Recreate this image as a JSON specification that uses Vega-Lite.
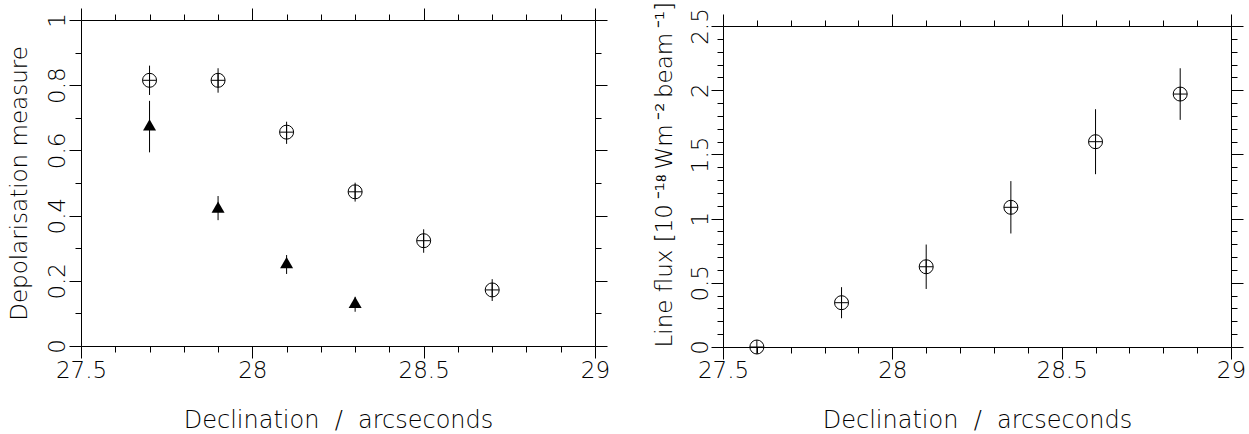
{
  "$schema": "https://vega.github.io/schema/vega-lite/v6.json",
  "padding": {"left": 8, "top": 1, "right": 0, "bottom": 0},
  "datasets": {
    "depol": [
      {"dec": 27.7, "val": 0.815, "lo": 0.77, "hi": 0.86, "kind": "circle"},
      {"dec": 27.9, "val": 0.815, "lo": 0.777, "hi": 0.852, "kind": "circle"},
      {"dec": 28.1, "val": 0.656, "lo": 0.62, "hi": 0.688, "kind": "circle"},
      {"dec": 28.3, "val": 0.473, "lo": 0.443, "hi": 0.501, "kind": "circle"},
      {"dec": 28.5, "val": 0.323, "lo": 0.286, "hi": 0.358, "kind": "circle"},
      {"dec": 28.7, "val": 0.172, "lo": 0.138, "hi": 0.205, "kind": "circle"},
      {"dec": 27.7, "val": 0.678, "lo": 0.594, "hi": 0.752, "kind": "triangle"},
      {"dec": 27.9, "val": 0.426, "lo": 0.386, "hi": 0.46, "kind": "triangle"},
      {"dec": 28.1, "val": 0.256, "lo": 0.221, "hi": 0.279, "kind": "triangle"},
      {"dec": 28.3, "val": 0.134, "lo": 0.105, "hi": 0.151, "kind": "triangle"}
    ],
    "flux": [
      {"dec": 27.6, "val": 0.0, "lo": 0.0, "hi": 0.0},
      {"dec": 27.85, "val": 0.345, "lo": 0.224, "hi": 0.466},
      {"dec": 28.1, "val": 0.625, "lo": 0.452, "hi": 0.798},
      {"dec": 28.35, "val": 1.088, "lo": 0.884, "hi": 1.292},
      {"dec": 28.6, "val": 1.599, "lo": 1.346, "hi": 1.852},
      {"dec": 28.85, "val": 1.97, "lo": 1.769, "hi": 2.171}
    ]
  },
  "spacing": 128,
  "bounds": "flush",
  "hconcat": [
    {
      "width": 514,
      "height": 326,
      "data": {"name": "depol"},
      "layer": [
        {
          "mark": {"type": "rule", "color": "#000", "strokeWidth": 1},
          "encoding": {
            "x": {"field": "dec", "type": "quantitative",
              "scale": {"domain": [27.5, 29], "nice": false, "zero": false},
              "axis": {"orient": "bottom", "values": [27.5, 28, 28.5, 29], "format": "~g", "tickSize": 12, "labelPadding": 19, "labelAngle": 0, "labelAlign": "center", "labelBaseline": "alphabetic", "title": "Declination\u00a0\u00a0/\u00a0\u00a0arcseconds", "titleFontSize": 24, "titleY": 81, "titleBaseline": "alphabetic", "titleAlign": "center"}},
            "y": {"field": "lo", "type": "quantitative",
              "scale": {"domain": [0, 1], "nice": false, "zero": false},
              "axis": {"orient": "left", "values": [0, 0.2, 0.4, 0.6, 0.8, 1], "format": "~g", "tickSize": 12, "labelPadding": 5, "labelAngle": -90, "labelAlign": "center", "labelBaseline": "alphabetic", "title": "Depolarisation measure", "titleX": -55, "titleY": 163, "titleAngle": -90, "titleAlign": "center", "titleBaseline": "alphabetic"}},
            "y2": {"field": "hi"}
          }
        },
        {
          "transform": [{"filter": "datum.kind === 'circle'"}],
          "mark": {"type": "point", "shape": "circle", "filled": false, "color": "#000", "strokeWidth": 1, "size": 196, "opacity": 1},
          "encoding": {
            "x": {"field": "dec", "type": "quantitative",
              "scale": {"domain": [27.5, 29], "nice": false, "zero": false},
              "axis": {"orient": "top", "values": [27.5, 28, 28.5, 29], "tickSize": 12, "labels": false, "title": null}},
            "y": {"field": "val", "type": "quantitative",
              "scale": {"domain": [0, 1], "nice": false, "zero": false},
              "axis": {"orient": "right", "values": [0, 0.2, 0.4, 0.6, 0.8, 1], "tickSize": 12, "labels": false, "title": null}}
          }
        },
        {
          "transform": [{"filter": "datum.kind === 'circle'"}],
          "mark": {"type": "point", "shape": "M-1,0H1M0,-1V1", "filled": false, "color": "#000", "strokeWidth": 1, "size": 196, "opacity": 1},
          "encoding": {
            "x": {"field": "dec", "type": "quantitative",
              "scale": {"domain": [27.5, 29], "nice": false, "zero": false},
              "axis": {"orient": "bottom", "values": [27.6, 27.7, 27.8, 27.9, 28.1, 28.2, 28.3, 28.4, 28.6, 28.7, 28.8, 28.9], "tickSize": 6, "labels": false, "domain": false, "title": null}},
            "y": {"field": "val", "type": "quantitative",
              "scale": {"domain": [0, 1], "nice": false, "zero": false},
              "axis": {"orient": "left", "values": [0.1, 0.3, 0.5, 0.7, 0.9], "tickSize": 6, "labels": false, "domain": false, "title": null}}
          }
        },
        {
          "transform": [{"filter": "datum.kind === 'triangle'"}],
          "mark": {"type": "point", "shape": "triangle-up", "filled": true, "color": "#000", "size": 169, "opacity": 1},
          "encoding": {
            "x": {"field": "dec", "type": "quantitative",
              "scale": {"domain": [27.5, 29], "nice": false, "zero": false},
              "axis": {"orient": "top", "values": [27.6, 27.7, 27.8, 27.9, 28.1, 28.2, 28.3, 28.4, 28.6, 28.7, 28.8, 28.9], "tickSize": 6, "labels": false, "domain": false, "title": null}},
            "y": {"field": "val", "type": "quantitative",
              "scale": {"domain": [0, 1], "nice": false, "zero": false},
              "axis": {"orient": "right", "values": [0.1, 0.3, 0.5, 0.7, 0.9], "tickSize": 6, "labels": false, "domain": false, "title": null}}
          }
        }
      ],
      "resolve": {"axis": {"x": "independent", "y": "independent"}}
    },
    {
      "width": 508,
      "height": 327,
      "data": {"name": "flux"},
      "layer": [
        {
          "mark": {"type": "rule", "color": "#000", "strokeWidth": 1},
          "encoding": {
            "x": {"field": "dec", "type": "quantitative",
              "scale": {"domain": [27.5, 29], "nice": false, "zero": false},
              "axis": {"orient": "bottom", "values": [27.5, 28, 28.5, 29], "format": "~g", "tickSize": 12, "labelPadding": 18, "labelAngle": 0, "labelAlign": "center", "labelBaseline": "alphabetic", "title": "Declination\u00a0\u00a0/\u00a0\u00a0arcseconds", "titleFontSize": 24, "titleY": 80, "titleBaseline": "alphabetic", "titleAlign": "center"}},
            "y": {"field": "lo", "type": "quantitative",
              "scale": {"domain": [0, 2.5], "nice": false, "zero": false, "range": [327, 6]},
              "axis": {"orient": "left", "values": [0, 0.5, 1, 1.5, 2, 2.5], "format": "~g", "tickSize": 12, "labelPadding": 4, "labelAngle": -90, "labelAlign": "center", "labelBaseline": "alphabetic", "title": "Line flux\u00a0[10\u2009⁻¹⁸\u2009Wm\u2009⁻²\u2009beam\u2009⁻¹]", "titleX": -52, "titleY": 327, "titleAngle": -90, "titleAlign": "left", "titleBaseline": "alphabetic"}},
            "y2": {"field": "hi"}
          }
        },
        {
          "mark": {"type": "point", "shape": "circle", "filled": false, "color": "#000", "strokeWidth": 1, "size": 196, "opacity": 1},
          "encoding": {
            "x": {"field": "dec", "type": "quantitative",
              "scale": {"domain": [27.5, 29], "nice": false, "zero": false},
              "axis": {"orient": "top", "offset": -6, "values": [27.5, 28, 28.5, 29], "tickSize": 12, "labels": false, "title": null}},
            "y": {"field": "val", "type": "quantitative",
              "scale": {"domain": [0, 2.5], "nice": false, "zero": false, "range": [327, 6]},
              "axis": {"orient": "right", "values": [0, 0.5, 1, 1.5, 2, 2.5], "tickSize": 12, "labels": false, "title": null}}
          }
        },
        {
          "mark": {"type": "point", "shape": "M-1,0H1", "filled": false, "color": "#000", "strokeWidth": 1, "size": 196, "opacity": 1},
          "encoding": {
            "x": {"field": "dec", "type": "quantitative",
              "scale": {"domain": [27.5, 29], "nice": false, "zero": false},
              "axis": {"orient": "bottom", "values": [27.6, 27.7, 27.8, 27.9, 28.1, 28.2, 28.3, 28.4, 28.6, 28.7, 28.8, 28.9], "tickSize": 6, "labels": false, "domain": false, "title": null}},
            "y": {"field": "val", "type": "quantitative",
              "scale": {"domain": [0, 2.5], "nice": false, "zero": false, "range": [327, 6]},
              "axis": {"orient": "left", "values": [0.1, 0.2, 0.3, 0.4, 0.6, 0.7, 0.8, 0.9, 1.1, 1.2, 1.3, 1.4, 1.6, 1.7, 1.8, 1.9, 2.1, 2.2, 2.3, 2.4], "tickSize": 6, "labels": false, "domain": false, "title": null}}
          }
        },
        {
          "mark": {"type": "point", "shape": "M0,-1V1", "filled": false, "color": "#000", "strokeWidth": 1, "size": 196, "opacity": 1},
          "encoding": {
            "x": {"field": "dec", "type": "quantitative",
              "scale": {"domain": [27.5, 29], "nice": false, "zero": false},
              "axis": {"orient": "top", "offset": -6, "values": [27.6, 27.7, 27.8, 27.9, 28.1, 28.2, 28.3, 28.4, 28.6, 28.7, 28.8, 28.9], "tickSize": 6, "labels": false, "domain": false, "title": null}},
            "y": {"field": "val", "type": "quantitative",
              "scale": {"domain": [0, 2.5], "nice": false, "zero": false, "range": [327, 6]},
              "axis": {"orient": "right", "values": [0.1, 0.2, 0.3, 0.4, 0.6, 0.7, 0.8, 0.9, 1.1, 1.2, 1.3, 1.4, 1.6, 1.7, 1.8, 1.9, 2.1, 2.2, 2.3, 2.4], "tickSize": 6, "labels": false, "domain": false, "title": null}}
          }
        }
      ],
      "resolve": {"axis": {"x": "independent", "y": "independent"}}
    }
  ],
  "config": {
    "view": {"stroke": null},
    "axis": {
      "grid": false,
      "labelFont": "DejaVu Sans", "labelFontSize": 23, "labelFontWeight": 200, "labelColor": "#000",
      "titleFont": "DejaVu Sans", "titleFontSize": 23, "titleFontWeight": 200, "titleColor": "#000",
      "domainColor": "#000", "tickColor": "#000", "domainWidth": 1, "tickWidth": 1,
      "labelFlush": false, "labelOverlap": false
    }
  }
}
